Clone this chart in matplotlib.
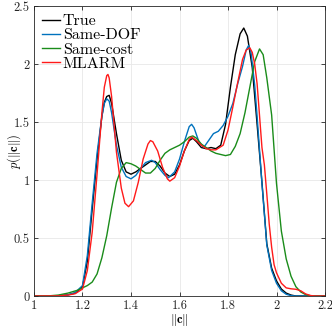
import matplotlib
import matplotlib.pyplot as plt

matplotlib.use('Agg')

plt.rcParams['font.family'] = 'serif'
plt.rcParams['font.serif'] = ['cmr10']
plt.rcParams['mathtext.fontset'] = 'cm'
plt.rcParams['axes.formatter.use_mathtext'] = True

# values
true_x = [1.00, 1.10, 1.14, 1.17, 1.20, 1.22, 1.24, 1.26, 1.28, 1.29, 1.30, 1.31, 1.32, 1.34,
          1.36, 1.38, 1.40, 1.42, 1.44, 1.46, 1.48, 1.50, 1.52, 1.54, 1.56, 1.58, 1.60, 1.62,
          1.64, 1.655, 1.67, 1.69, 1.71, 1.73, 1.75, 1.77, 1.79, 1.81, 1.83, 1.85, 1.865, 1.88,
          1.90, 1.92, 1.94, 1.96, 1.98, 2.00, 2.02, 2.04, 2.06, 2.08, 2.20]
true_y = [0, 0.002, 0.01, 0.025, 0.08, 0.30, 0.75, 1.18, 1.55, 1.67, 1.72, 1.73, 1.66, 1.40,
          1.17, 1.07, 1.05, 1.07, 1.10, 1.13, 1.16, 1.16, 1.12, 1.06, 1.03, 1.05, 1.13, 1.25,
          1.34, 1.36, 1.33, 1.28, 1.27, 1.28, 1.27, 1.30, 1.48, 1.80, 2.08, 2.26, 2.31, 2.24,
          1.97, 1.48, 0.98, 0.45, 0.24, 0.13, 0.06, 0.025, 0.008, 0, 0]

dof_x = [1.00, 1.10, 1.14, 1.17, 1.20, 1.22, 1.24, 1.26, 1.28, 1.29, 1.30, 1.31, 1.32, 1.34,
         1.36, 1.38, 1.40, 1.42, 1.44, 1.46, 1.485, 1.50, 1.52, 1.54, 1.555, 1.58, 1.60, 1.62,
         1.64, 1.65, 1.66, 1.68, 1.70, 1.72, 1.74, 1.76, 1.78, 1.80, 1.82, 1.84, 1.86, 1.875,
         1.885, 1.895, 1.91, 1.92, 1.93, 1.94, 1.96, 1.98, 2.00, 2.02, 2.04, 2.06, 2.08, 2.20]
dof_y = [0, 0.002, 0.01, 0.03, 0.09, 0.35, 0.80, 1.23, 1.55, 1.66, 1.70, 1.68, 1.58, 1.30,
         1.11, 1.03, 1.01, 1.04, 1.10, 1.15, 1.17, 1.15, 1.09, 1.04, 1.02, 1.07, 1.18, 1.33,
         1.46, 1.48, 1.45, 1.33, 1.28, 1.34, 1.40, 1.42, 1.47, 1.55, 1.66, 1.83, 1.98, 2.12,
         2.16, 2.10, 1.82, 1.55, 1.26, 0.97, 0.44, 0.22, 0.11, 0.045, 0.015, 0.003, 0, 0]

cost_x = [1.00, 1.06, 1.10, 1.14, 1.18, 1.20, 1.22, 1.24, 1.26, 1.28, 1.30, 1.32, 1.34, 1.36,
          1.38, 1.40, 1.42, 1.44, 1.46, 1.48, 1.50, 1.52, 1.54, 1.56, 1.58, 1.60, 1.62, 1.64,
          1.655, 1.67, 1.69, 1.71, 1.73, 1.75, 1.77, 1.79, 1.81, 1.83, 1.85, 1.87, 1.89, 1.91,
          1.93, 1.945, 1.96, 1.98, 2.00, 2.02, 2.04, 2.06, 2.08, 2.10, 2.12, 2.14, 2.16, 2.20]
cost_y = [0, 0.001, 0.008, 0.025, 0.05, 0.07, 0.09, 0.12, 0.19, 0.33, 0.52, 0.76, 0.98, 1.10,
          1.15, 1.14, 1.12, 1.09, 1.06, 1.06, 1.10, 1.17, 1.23, 1.26, 1.28, 1.30, 1.33, 1.37,
          1.38, 1.36, 1.31, 1.28, 1.25, 1.23, 1.22, 1.21, 1.22, 1.29, 1.40, 1.58, 1.80, 2.02,
          2.13, 2.08, 1.88, 1.56, 0.97, 0.56, 0.32, 0.17, 0.08, 0.035, 0.012, 0.003, 0, 0]

mlarm_x = [1.00, 1.10, 1.14, 1.17, 1.20, 1.22, 1.24, 1.26, 1.28, 1.29, 1.30, 1.305, 1.31, 1.32,
           1.34, 1.36, 1.375, 1.39, 1.41, 1.43, 1.45, 1.47, 1.48, 1.49, 1.51, 1.53, 1.55, 1.56,
           1.58, 1.60, 1.62, 1.64, 1.65, 1.67, 1.69, 1.71, 1.73, 1.75, 1.765, 1.78, 1.80, 1.82,
           1.84, 1.86, 1.875, 1.89, 1.90, 1.91, 1.92, 1.94, 1.95, 1.96, 1.97, 1.98, 1.99, 2.00,
           2.02, 2.04, 2.06, 2.08, 2.10, 2.12, 2.14, 2.16, 2.20]
mlarm_y = [0, 0.001, 0.008, 0.02, 0.06, 0.22, 0.55, 1.05, 1.58, 1.80, 1.90, 1.91, 1.88, 1.72,
           1.24, 0.93, 0.80, 0.77, 0.82, 0.98, 1.18, 1.31, 1.34, 1.33, 1.25, 1.11, 1.01, 0.99,
           1.02, 1.12, 1.25, 1.35, 1.37, 1.34, 1.30, 1.27, 1.26, 1.26, 1.28, 1.30, 1.43, 1.63,
           1.84, 2.04, 2.12, 2.14, 2.10, 2.00, 1.83, 1.28, 1.13, 0.88, 0.62, 0.42, 0.27, 0.20,
           0.11, 0.07, 0.062, 0.058, 0.045, 0.018, 0.004, 0, 0]

x_ticks = [1, 1.2, 1.4, 1.6, 1.8, 2, 2.2]
x_labels = ['1', '1.2', '1.4', '1.6', '1.8', '2', '2.2']
y_ticks = [0, 0.5, 1, 1.5, 2, 2.5]
y_labels = ['0', '0.5', '1', '1.5', '2', '2.5']

fig = plt.figure(figsize=(3.32, 3.29), dpi=100)
ax = fig.add_axes([34 / 332, 33 / 329, 291 / 332, 290 / 329])

ax.plot(true_x, true_y, color='k', lw=1.0, label='True')
ax.plot(dof_x, dof_y, color='#0072BD', lw=1.0, label='Same-DOF')
ax.plot(cost_x, cost_y, color='#1a8c1a', lw=1.0, label='Same-cost')
ax.plot(mlarm_x, mlarm_y, color='#ff1a1a', lw=1.0, label='MLARM')

ax.set_xlim(1, 2.2)
ax.set_ylim(0, 2.5)
ax.set_xticks(x_ticks)
ax.set_xticklabels(x_labels)
ax.set_yticks(y_ticks)
ax.set_yticklabels(y_labels)
ax.tick_params(direction='in', top=True, right=True, length=3, width=0.6,
               labelsize=9, colors='#262626', pad=3)
for s in ax.spines.values():
    s.set_color('#262626')
    s.set_linewidth(0.6)
ax.grid(True, color='#e8e8e8', lw=0.6)
ax.set_axisbelow(True)

ax.set_xlabel(r'$\|\mathbf{c}\|$', fontsize=9)
ax.xaxis.set_label_coords(0.5, -0.056)
ax.set_ylabel(r'$p(\|\mathbf{c}\|)$', fontsize=9, va='center')
ax.yaxis.set_label_coords(-0.07, 0.5)

ax.legend(loc='upper left', frameon=False, fontsize=11.5, handlelength=1.1,
          handletextpad=0.2, labelspacing=0.0, borderaxespad=0.3, borderpad=0.2)

fig.savefig('out.png', dpi=100)
